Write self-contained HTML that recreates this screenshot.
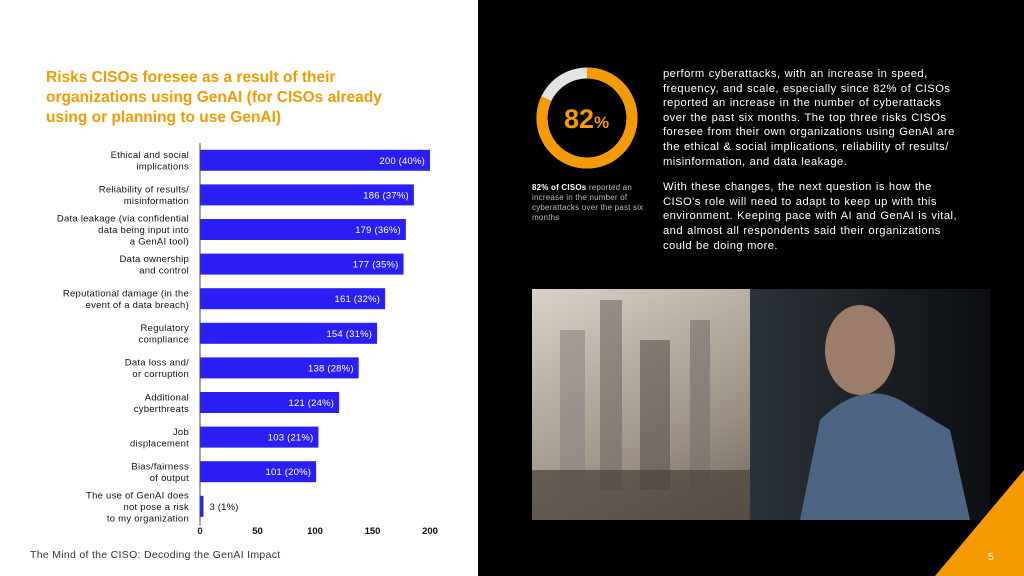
<!DOCTYPE html>
<html><head><meta charset="utf-8"><style>
body{margin:0;width:1024px;height:576px;overflow:hidden;font-family:"Liberation Sans",sans-serif;position:relative;background:#fff}
#left{position:absolute;left:0;top:0;width:478px;height:576px;background:#fff}
#right{position:absolute;left:478px;top:0;width:546px;height:576px;background:#000;overflow:hidden}
h1{position:absolute;left:46px;top:68px;margin:0;font-size:15.5px;line-height:20px;color:#f59a00;font-weight:bold;width:380px}
.footer{position:absolute;left:30px;top:549px;font-size:10.5px;color:#333;letter-spacing:0.3px}
.para{position:absolute;left:663px;top:67px;width:300px;color:#fff;font-size:11.2px;line-height:14.6px;letter-spacing:0.45px;word-spacing:0.5px}
.cap{position:absolute;left:532px;top:183px;width:118px;color:#bbb;font-size:8px;line-height:10px;letter-spacing:0.2px}
</style></head><body>
<div id="left"></div>
<div id="right"></div>
<h1>Risks CISOs foresee as a result of their organizations using GenAI (for CISOs already using or planning to use GenAI)</h1>
<svg id="chart" width="478" height="576" style="position:absolute;left:0;top:0"></svg>
<div class="footer">The Mind of the CISO: Decoding the GenAI Impact</div>
<svg width="1024" height="576" style="position:absolute;left:0;top:0">
<defs>
<linearGradient id="sky" x1="0" y1="0" x2="1" y2="1"><stop offset="0" stop-color="#d8d2c8"/><stop offset="0.5" stop-color="#9a8f82"/><stop offset="1" stop-color="#3b3530"/></linearGradient>
<linearGradient id="win" x1="0" y1="0" x2="1" y2="0"><stop offset="0" stop-color="#2b3238"/><stop offset="1" stop-color="#0c0f12"/></linearGradient>
</defs>
<circle cx="587" cy="118" r="45" fill="none" stroke="#e3e3e3" stroke-width="11"/>
<circle cx="587" cy="118" r="45" fill="none" stroke="#f59a00" stroke-width="11" stroke-dasharray="231.9 282.7" transform="rotate(-90 587 118)"/>
<text x="564" y="128" fill="#f59a00" font-size="27" font-weight="bold" font-family="Liberation Sans">82<tspan font-size="17">%</tspan></text>
<g>
<rect x="532" y="289" width="458" height="231" fill="url(#sky)"/>
<rect x="560" y="330" width="25" height="160" fill="#8a8580" opacity="0.6"/>
<rect x="600" y="300" width="22" height="190" fill="#6f6a64" opacity="0.6"/>
<rect x="640" y="340" width="30" height="150" fill="#5a554f" opacity="0.6"/>
<rect x="690" y="320" width="20" height="170" fill="#77706a" opacity="0.6"/>
<rect x="532" y="470" width="240" height="50" fill="#4a423a" opacity="0.7"/>
<rect x="750" y="289" width="240" height="231" fill="url(#win)"/>
<ellipse cx="860" cy="350" rx="35" ry="45" fill="#9c7d6a"/>
<path d="M800 520 L820 420 Q860 380 900 400 L950 430 L970 520 Z" fill="#4c6584"/>
</g>
<polygon points="935,576 1024,470 1024,576" fill="#f59a00"/>
<text x="988" y="560" fill="#fff" font-size="10" font-family="Liberation Sans">5</text>
</svg>
<div class="para">perform cyberattacks, with an increase in speed, frequency, and scale, especially since 82% of CISOs reported an increase in the number of cyberattacks over the past six months. The top three risks CISOs foresee from their own organizations using GenAI are the ethical &amp; social implications, reliability of results/ misinformation, and data leakage.<div style="height:11px"></div>With these changes, the next question is how the CISO's role will need to adapt to keep up with this environment. Keeping pace with AI and GenAI is vital, and almost all respondents said their organizations could be doing more.</div>
<div class="cap"><b style="color:#fff">82% of CISOs</b> reported an increase in the number of cyberattacks over the past six months</div>
<script>
const categories=[["Ethical and social","implications"],["Reliability of results/","misinformation"],["Data leakage (via confidential","data being input into","a GenAI tool)"],["Data ownership","and control"],["Reputational damage (in the","event of a data breach)"],["Regulatory","compliance"],["Data loss and/","or corruption"],["Additional","cyberthreats"],["Job","displacement"],["Bias/fairness","of output"],["The use of GenAI does","not pose a risk","to my organization"]];
const values=[200,186,179,177,161,154,138,121,103,101,3];
const percents=[40,37,36,35,32,31,28,24,21,20,1];
const ticks=[0,50,100,150,200];
const svg=document.getElementById('chart');
const NS='http://www.w3.org/2000/svg';
const x0=200,x1=430,vmax=200,yTop=143,step=34.6,bh=21;
const xs=v=>x0+(x1-x0)*v/vmax;
const yc=i=>yTop+step*(i+0.5);
function mk(t,a){const e=document.createElementNS(NS,t);for(const k in a)e.setAttribute(k,a[k]);svg.appendChild(e);return e;}
values.forEach((v,i)=>{
 const r=mk('rect',{x:x0,y:yc(i)-bh/2,width:xs(v)-x0,height:bh,fill:'#2b1ff5'});
 
 
 const lbl=v+' ('+percents[i]+'%)';
 const inside=xs(v)-x0>40;
 const t=mk('text',{x:inside?xs(v)-5:xs(v)+6,y:yc(i)+3.5,'font-size':'9.5','letter-spacing':'0.2','text-anchor':'end',fill:inside?'#fff':'#111'});
 if(!inside)t.setAttribute('text-anchor','start');
 t.textContent=lbl;
 
 
 const lines=categories[i];const lh=11.5;
 lines.forEach((s,j)=>{
  const c=mk('text',{x:189,y:yc(i)+3.5+(j-(lines.length-1)/2)*lh,'font-size':'9.5','letter-spacing':'0.25','text-anchor':'end',fill:'#111'});
  c.textContent=s;
  
  
 });
});
const ax=mk('line',{x1:x0,y1:yTop,x2:x0,y2:yTop+step*values.length+2,stroke:'#444','stroke-width':1});


ticks.forEach(t=>{
 const e=mk('text',{x:xs(t),y:534,'font-size':'9.5','font-weight':'bold','text-anchor':'middle',fill:'#111'});
 e.textContent=t;
 
 
});
</script>
</body></html>
